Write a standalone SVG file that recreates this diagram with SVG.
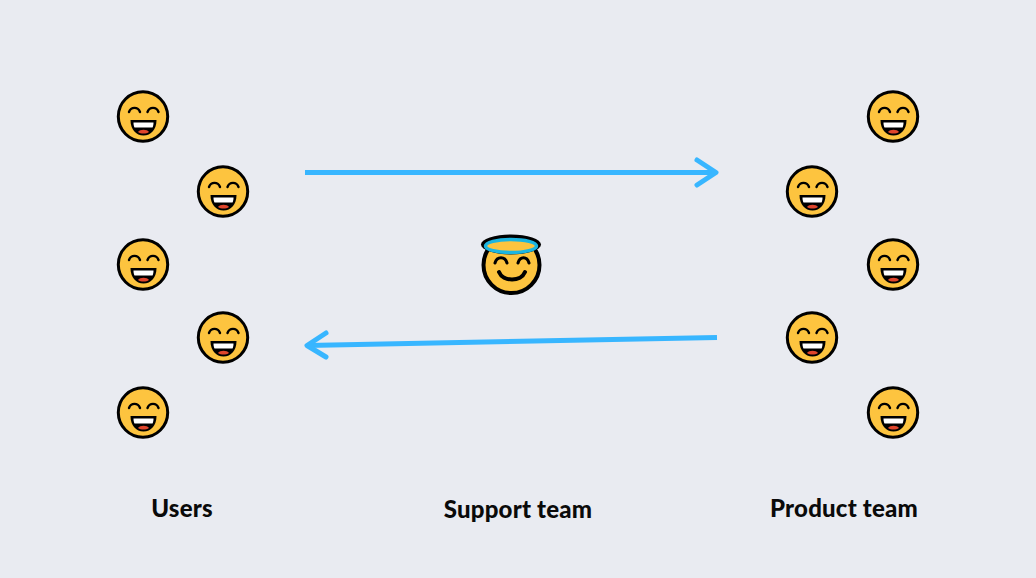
<svg xmlns="http://www.w3.org/2000/svg" width="1036" height="578" viewBox="0 0 1036 578">
<style>
.o{fill:none;stroke:#000;stroke-width:3;stroke-linecap:round;stroke-linejoin:round}
.face{fill:#fdc43f;stroke:#000;stroke-width:3}
.c{fill:none;stroke:#38b6ff;stroke-width:5;stroke-linejoin:round}
.h{stroke-linecap:round}
.l{font-family:"Lato","Liberation Sans",sans-serif;font-weight:900;font-size:24px;letter-spacing:.2px;fill:#0a0a0a;text-anchor:middle}
</style>
<defs>
<g id="grin">
<circle class="face" r="24.7"/>
<path d="M-14-4.500C-12-10-5-10-3-4.500M4.500-4.500C6.500-10 13.500-10 15.500-4.500" style="fill:none;stroke:#000;stroke-width:2.400;stroke-linecap:round"/>
<path d="M-12.500 3.500H13.500C13.500 13 8 19 .500 19S-12.500 13-12.500 3.500Z" fill="#000"/>
<path d="M-9.500 6H10.500C10.500 8.500 10 10 9.500 11H-8.500C-9 10-9.500 8.500-9.500 6Z" fill="#fff"/>
<path d="M-5 15.500C-3 12.500 4 12.500 6 15.500C3 17.500-2 17.500-5 15.500Z" fill="#e0452c"/>
</g>
</defs>
<rect width="1036" height="578" fill="#e9ebf1"/>
<g id="connectors">
<path class="c" d="M305 172.500H716"/>
<path class="c h" d="M697 160L716 172.500L697 185"/>
<path class="c" d="M717 337.500L307 345.500"/>
<path class="c h" d="M326 333L307 345.500L326 357"/>
</g>
<g id="user-1"><use href="#grin" x="143" y="116.500"/></g>
<g id="user-2"><use href="#grin" x="223" y="191.500"/></g>
<g id="user-3"><use href="#grin" x="143" y="264.500"/></g>
<g id="user-4"><use href="#grin" x="223" y="337.500"/></g>
<g id="user-5"><use href="#grin" x="143" y="412.500"/></g>
<g id="product-1"><use href="#grin" x="893" y="116.500"/></g>
<g id="product-2"><use href="#grin" x="812" y="191.500"/></g>
<g id="product-3"><use href="#grin" x="893" y="264.500"/></g>
<g id="product-4"><use href="#grin" x="812" y="337.500"/></g>
<g id="product-5"><use href="#grin" x="893" y="412.500"/></g>
<g id="support">
<circle cx="511.500" cy="265" r="28" fill="#fdc43f" stroke="#000" stroke-width="4"/>
<ellipse cx="511" cy="244.500" rx="30" ry="10" fill="#000"/>
<ellipse cx="511" cy="246" rx="25.500" ry="6.500" fill="#fdc43f" stroke="#1cb5e0" stroke-width="3.500"/>
<path d="M495 263C497 256 505 256 507 263M518 263C520 256 527 256 529 263" class="o"/>
<path d="M499 272C503 282 521 282 525 272" class="o" style="stroke-width:4"/>
</g>
<g id="labels">
<text class="l" x="182" y="517">Users</text>
<text class="l" x="518" y="518">Support team</text>
<text class="l" x="844" y="517">Product team</text>
</g>
</svg>
